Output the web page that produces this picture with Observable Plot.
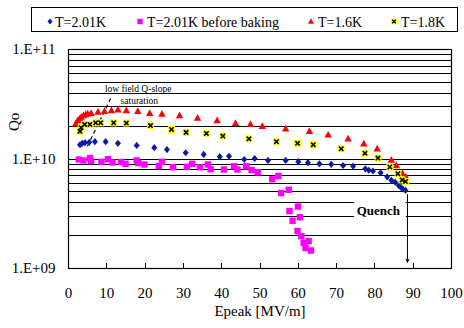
<!DOCTYPE html>
<html><head><meta charset="utf-8">
<script src="https://cdn.jsdelivr.net/npm/d3@7"></script>
<script src="https://cdn.jsdelivr.net/npm/@observablehq/plot@0.6"></script>
<style>
html,body{margin:0;padding:0;background:#fff;}
#wrap{position:relative;width:464px;height:328px;overflow:hidden;font-family:'Liberation Serif','Times New Roman',serif;}
#wrap svg{display:block;}
#legend{position:absolute;left:0;top:0;}
</style></head><body>
<div id="wrap"></div>
<script>
// ---- data ----
const seriesNames = ["T=2.01K", "T=2.01K before baking", "T=1.6K", "T=1.8K"];

const e201 = [3.0,3.6,4.3,5.4,6.9,9.7,12.9,17.8,22.4,25.7,30.6,35.3,39.5,41.9,45.9,48.6,52.1,56.7,60.0,62.5,65.5,68.6,71.7,74.3,77.5,78.4,79.5,81.5,83.2,84.3,85.3,86.2,86.8,87.3,88.0];
const q201 = [1.35e10,1.39e10,1.41e10,1.42e10,1.44e10,1.44e10,1.39e10,1.33e10,1.27e10,1.22e10,1.14e10,1.10e10,1.05e10,1.06e10,9.9e9,1.01e10,9.7e9,9.7e9,9.45e9,9.25e9,9.04e9,8.95e9,8.72e9,8.6e9,8.14e9,7.89e9,7.77e9,7.48e9,6.88e9,6.39e9,6.13e9,5.73e9,5.51e9,5.32e9,5.16e9];

const eBefore = [2.7,3.9,5.6,5.9,8.6,10.3,11.5,13.7,14.9,17.8,18.2,19.8,23.6,24.4,27.3,30.9,32.3,34.3,36.4,37.1,40.6,43.2,44.1,46.4,47.8,49.4,53.2,54.8,55.5,57.5,59.9,57.7,60.4,58.5,59.8,60.8,62.7,61.4,61.9,63.3];
const qBefore = [9.89e9,9.69e9,1.02e10,9.55e9,9.43e9,9.96e9,9.29e9,9.39e9,9.04e9,9.69e9,9.19e9,8.91e9,8.63e9,9.43e9,8.42e9,8.49e9,9.04e9,8.40e9,8.91e9,8.07e9,8.02e9,8.58e9,8.02e9,8.58e9,7.93e9,7.56e9,6.53e9,7.0e9,4.89e9,5.23e9,3.68e9,3.35e9,2.94e9,2.73e9,2.20e9,1.97e9,1.78e9,1.71e9,1.54e9,1.46e9];

const e16 = [1.9,2.4,2.9,3.3,3.9,4.5,5.0,5.9,7.7,9.4,11.2,12.9,15.1,18.1,21.2,24.4,29.0,33.7,38.8,43.6,47.5,50.6,56.7,62.9,67.8,73.0,77.1,80.6,84.3,85.6,87.2,88.1];
const q16 = [2.10e10,2.25e10,2.33e10,2.41e10,2.50e10,2.55e10,2.59e10,2.62e10,2.68e10,2.73e10,2.77e10,2.81e10,2.77e10,2.73e10,2.62e10,2.57e10,2.49e10,2.37e10,2.25e10,2.12e10,2.07e10,1.99e10,1.89e10,1.79e10,1.66e10,1.53e10,1.38e10,1.24e10,9.79e9,8.72e9,7.37e9,6.85e9];

const e18 = [3.0,3.3,4.2,5.6,7.1,8.4,11.8,15.1,21.4,26.9,30.7,36.0,40.3,47.1,54.3,59.8,63.9,71.2,77.4,80.8,83.9,86.0,87.1,88.0];
const q18 = [1.79e10,1.93e10,2.07e10,2.07e10,2.14e10,2.14e10,2.14e10,2.13e10,2.02e10,1.86e10,1.75e10,1.71e10,1.62e10,1.53e10,1.44e10,1.39e10,1.35e10,1.24e10,1.13e10,1.02e10,8.45e9,7.34e9,6.43e9,6.23e9];

const xTicks = [0,10,20,30,40,50,60,70,80,90,100];
const yTicks = [1e9,1e10,1e11];
const yTickLabels = ["1.E+09","1.E+10","1.E+11"];
const gridValues = [1e9,2e9,3e9,4e9,5e9,6e9,7e9,8e9,9e9,1e10,2e10,3e10,4e10,5e10,6e10,7e10,8e10,9e10,1e11];

const xLabel = "Epeak [MV/m]";
const yLabel = "Qo";

// annotations (data coordinates)
const noteLines = [
  {text: "low field Q-slope", E: 18.2, Q: 4.38e10},
  {text: "saturation", E: 18.5, Q: 3.42e10}
];
const noteLeader = [{E1: 11.0, Q1: 3.57e10, E2: 4.9, Q2: 1.30e10}];
const quench = [{text: "Quench", E: 80.9, Q: 3.39e9, E1: 74.7, E2: 88.2, Q1: 2.58e9, Q2: 4.4e9}];
const quenchArrow = [{E: 88.5, Q1: 4.74e9, Q2: 1.14e9}];

// ---- build ----
const rows = (E, Q) => E.map((e, i) => ({E: e, Q: Q[i]}));
const dBlue = rows(e201, q201), dPink = rows(eBefore, qBefore), dRed = rows(e16, q16), dYel = rows(e18, q18);

const diamondSym = {draw(c){ c.moveTo(0,-3.6); c.lineTo(3,0); c.lineTo(0,3.6); c.lineTo(-3,0); c.closePath(); }};
const squareSym = {draw(c){ c.rect(-3.2,-3.2,6.4,6.4); }};
const triSym = {draw(c){ c.moveTo(0,-4); c.lineTo(3.7,2.7); c.lineTo(-3.7,2.7); c.closePath(); }};
const ySqSym = {draw(c){ c.rect(-3.5,-3.5,7,7); }};
const xSym = {draw(c){ c.moveTo(-2.2,-2.2); c.lineTo(2.2,2.2); c.moveTo(2.2,-2.2); c.lineTo(-2.2,2.2); }};

const BLUE = "#0a1aa8", PINK = "#ff00ff", RED = "#ff0000", YEL = "#ffff00";

const chart = Plot.plot({
  width: 464, height: 328,
  marginLeft: 68, marginRight: 13, marginTop: 49, marginBottom: 60,
  style: {fontFamily: "'Liberation Serif','Times New Roman',serif", fontSize: "15px", background: "white", color: "black", overflow: "visible"},
  x: {domain: [0, 100], ticks: xTicks, tickSize: 0, tickPadding: 19, tickFormat: d => String(d), label: null},
  y: {type: "log", domain: [1e9, 1e11], ticks: yTicks, tickSize: 0, tickPadding: 13, tickFormat: d => yTickLabels[yTicks.indexOf(d)], label: null},
  marks: [
    Plot.ruleY(gridValues, {y: d => d, stroke: "black", strokeWidth: 1, shapeRendering: "crispEdges"}),
    Plot.rect(quench, {x1: "E1", x2: "E2", y1: "Q1", y2: "Q2", fill: "white"}),
    Plot.text(quench, {x: "E", y: "Q", text: "text", fontWeight: "bold", fontSize: 13}),
    Plot.arrow(quenchArrow, {x1: "E", x2: "E", y1: "Q1", y2: "Q2", stroke: "black", strokeWidth: 1, headLength: 5, headAngle: 50}),
    Plot.ruleX(xTicks, {x: d => d, insetTop: 214, stroke: "black", shapeRendering: "crispEdges"}),
    Plot.frame({stroke: "black", strokeWidth: 1.2}),
    Plot.text(noteLines, {x: "E", y: "Q", text: "text", fontSize: 9.5}),
    Plot.link(noteLeader, {x1: "E1", y1: "Q1", x2: "E2", y2: "Q2", stroke: "black", strokeWidth: 1.2, strokeDasharray: "4,3"}),
    Plot.dot(dBlue, {x: "E", y: "Q", symbol: diamondSym, fill: BLUE, stroke: "none"}),
    Plot.dot(dPink, {x: "E", y: "Q", symbol: squareSym, fill: PINK, stroke: "none"}),
    Plot.dot(dRed, {x: "E", y: "Q", symbol: triSym, fill: RED, stroke: "none"}),
    Plot.dot(dYel, {x: "E", y: "Q", symbol: ySqSym, fill: YEL, stroke: "none"}),
    Plot.dot(dYel, {x: "E", y: "Q", symbol: xSym, fill: "none", stroke: "black", strokeWidth: 1.6}),
    Plot.text([yLabel], {frameAnchor: "left", dx: -54, dy: -28, rotate: -90, fontSize: 15}),
    Plot.text([xLabel], {frameAnchor: "bottom", dy: 47, fontSize: 15})
  ]
});
document.getElementById("wrap").appendChild(chart);

// ---- legend overlay ----
const legendItems = [
  {name: seriesNames[0], mx: 50, tx: 55, kind: "diamond"},
  {name: seriesNames[1], mx: 140, tx: 147, kind: "square"},
  {name: seriesNames[2], mx: 311, tx: 318, kind: "triangle"},
  {name: seriesNames[3], mx: 394, tx: 401, kind: "ysquare"}
];
const lg = d3.select("#wrap").append("svg").attr("id", "legend").attr("width", 464).attr("height", 40);
lg.append("rect").attr("x", 31.5).attr("y", 7.5).attr("width", 426).attr("height", 24).attr("fill", "white").attr("stroke", "black").attr("stroke-width", 1);
const my = 21.5;
for (const it of legendItems) {
  const g = lg.append("g").attr("transform", `translate(${it.mx},${my})`);
  if (it.kind === "diamond") g.append("path").attr("d", "M0,-3L2.5,0L0,3L-2.5,0Z").attr("fill", BLUE);
  if (it.kind === "square") g.append("rect").attr("x", -2.7).attr("y", -2.7).attr("width", 5.4).attr("height", 5.4).attr("fill", PINK);
  if (it.kind === "triangle") g.append("path").attr("d", "M0,-3.3L3,2.2L-3,2.2Z").attr("fill", RED);
  if (it.kind === "ysquare") {
    g.append("rect").attr("x", -3).attr("y", -3).attr("width", 6).attr("height", 6).attr("fill", YEL);
    g.append("path").attr("d", "M-1.8,-1.8L1.8,1.8M1.8,-1.8L-1.8,1.8").attr("stroke", "black").attr("stroke-width", 1.4);
  }
  lg.append("text").attr("x", it.tx).attr("y", 26.5).attr("font-size", 14)
    .attr("font-family", "'Liberation Serif','Times New Roman',serif").text(it.name);
}
</script>
</body></html>
